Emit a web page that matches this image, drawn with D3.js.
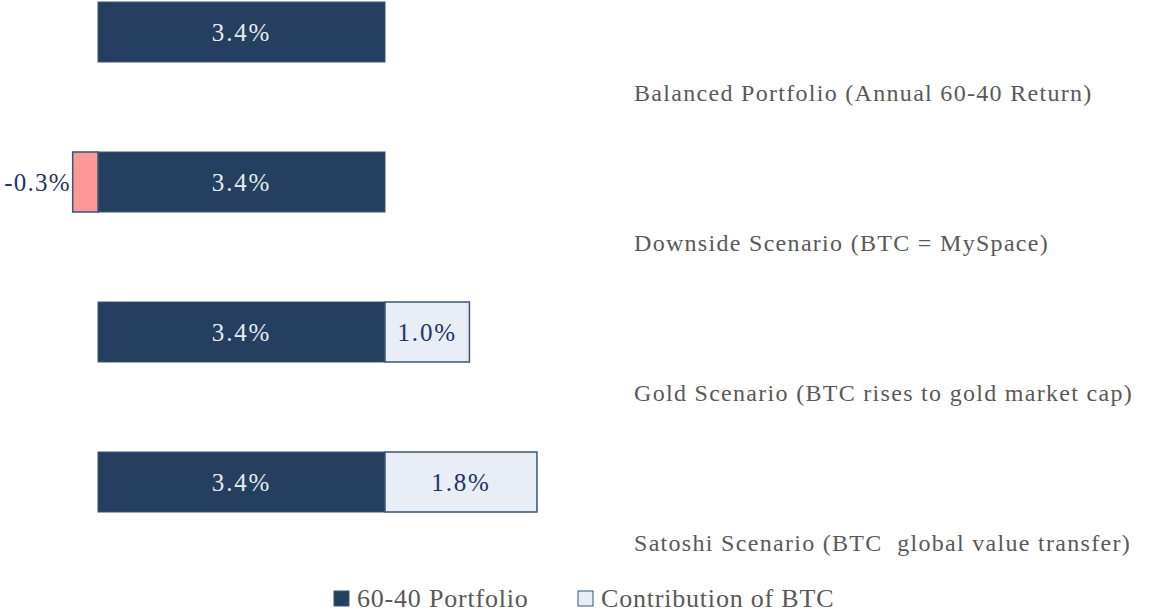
<!DOCTYPE html>
<html>
<head>
<meta charset="utf-8">
<script src="https://cdn.jsdelivr.net/npm/d3@7"></script>
<style>
  body { margin: 0; background: #fff; }
  svg text { font-family: "Liberation Serif", "DejaVu Serif", serif; white-space: pre; }
</style>
</head>
<body>
<div id="chart"></div>
<script>
// datos del grafico
const categories = [
  'Balanced Portfolio (Annual 60-40 Return)',
  'Downside Scenario (BTC = MySpace)',
  'Gold Scenario (BTC rises to gold market cap)',
  'Satoshi Scenario (BTC  global value transfer)'
];
const portfolio = [3.4, 3.4, 3.4, 3.4];
const btc = [0, -0.3, 1.0, 1.8];
const seriesNames = ['60-40 Portfolio', 'Contribution of BTC'];

const width = 1169, height = 613;
const navy = '#243f60', light = '#e9eef6', pink = '#ff9999';

const svg = d3.select('#chart').append('svg').attr('width', width).attr('height', height);

// escalas
const x = d3.scaleLinear().domain([0, 3.4]).range([98, 385]);
const y = d3.scaleBand().domain(categories).range([-43, 557]).paddingInner(0.6).paddingOuter(0.3);

const rows = categories.map((c, i) => ({ cat: c, p: portfolio[i], b: btc[i] }));

const g = svg.selectAll('g.row').data(rows).enter().append('g').attr('class', 'row');

// barra 60-40
g.append('rect')
  .attr('x', x(0))
  .attr('y', d => y(d.cat))
  .attr('width', d => x(d.p) - x(0))
  .attr('height', y.bandwidth())
  .attr('fill', navy)
  .attr('stroke', '#3a5577')
  .attr('stroke-width', 1);

g.append('text')
  .attr('x', d => (x(0) + x(d.p)) / 2)
  .attr('y', d => y(d.cat) + y.bandwidth() / 2)
  .attr('dy', '0.35em')
  .attr('text-anchor', 'middle')
  .attr('fill', '#e6ebf2')
  .style('font-size', '25px')
  .style('letter-spacing', '1.8px')
  .text(d => d.p.toFixed(1) + '%');

// contribucion BTC
const gb = g.filter(d => d.b !== 0);
gb.append('rect')
  .attr('x', d => d.b > 0 ? x(d.p) : x(d.b))
  .attr('y', d => y(d.cat))
  .attr('width', d => d.b > 0 ? x(d.p + d.b) - x(d.p) : x(0) - x(d.b))
  .attr('height', y.bandwidth())
  .attr('fill', d => d.b > 0 ? light : pink)
  .attr('stroke', '#3a5577')
  .attr('stroke-width', 1.5);

gb.append('text')
  .attr('x', d => d.b > 0 ? (x(d.p) + x(d.p + d.b)) / 2 : x(d.b) - 2)
  .attr('y', d => y(d.cat) + y.bandwidth() / 2)
  .attr('dy', '0.35em')
  .attr('text-anchor', d => d.b > 0 ? 'middle' : 'end')
  .attr('fill', '#1f3468')
  .style('font-size', '25px')
  .style('letter-spacing', d => d.b > 0 ? '1.8px' : '1.2px')
  .text(d => d.b.toFixed(1) + '%');

// etiquetas de categoria
g.append('text')
  .attr('x', 634)
  .attr('y', d => y(d.cat) + y.bandwidth() / 2 + 61)
  .attr('dy', '0.35em')
  .attr('fill', '#595959')
  .style('font-size', '24px')
  .style('letter-spacing', '1.3px')
  .text(d => d.cat);

// leyenda
const legend = svg.append('g').attr('transform', 'translate(0,598)');
const lx = [334, 578];
const lfill = [navy, light];
seriesNames.forEach((n, i) => {
  legend.append('rect').attr('x', lx[i]).attr('y', -7).attr('width', 15).attr('height', 15)
    .attr('fill', lfill[i]).attr('stroke', '#3a5577').attr('stroke-width', 1);
  legend.append('text').attr('x', lx[i] + 23).attr('y', 0).attr('dy', '0.35em')
    .attr('fill', '#595959').style('font-size', '26px').style('letter-spacing', '0.8px').text(n);
});
</script>
</body>
</html>
